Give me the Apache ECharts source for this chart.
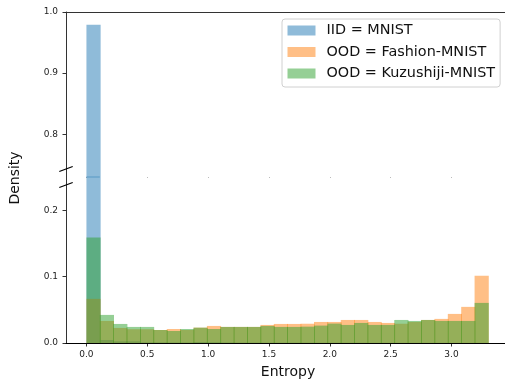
<!DOCTYPE html>
<html>
<head>
<meta charset="utf-8">
<script src="https://cdn.jsdelivr.net/npm/echarts@6/dist/echarts.min.js"></script>
<style>
  html, body { margin: 0; padding: 0; background: #fff; }
  #chart { width: 505px; height: 383px; }
</style>
</head>
<body>
<div id="chart"></div>
<script>
// Histogram bins over predictive entropy
const binStart = 0;
const binEnd = 3.30;
const binCount = 30;

// Per-bin fraction of samples
const iidMnist = [0.979, 0.0045, 0.0025, 0.0025, 0.001, 0.001, 0.0008, 0.0008, 0.0015, 0.0012,
  0.0008, 0.0006, 0.0006, 0.0005, 0.0005, 0.0005, 0.0005, 0.0004, 0.0004, 0.0004,
  0.0004, 0.0003, 0.0003, 0.0003, 0.0003, 0.0003, 0.0003, 0.0002, 0.0002, 0.0002];
const oodFashion = [0.0665, 0.0332, 0.0227, 0.0207, 0.0207, 0.0196, 0.0211, 0.0196, 0.0231, 0.0257,
  0.0242, 0.0242, 0.0242, 0.0272, 0.0287, 0.0287, 0.0290, 0.0317, 0.0317, 0.0347,
  0.0347, 0.0317, 0.0302, 0.0290, 0.0317, 0.0347, 0.0363, 0.0438, 0.0544, 0.1012];
const oodKuzushiji = [0.159, 0.0423, 0.0287, 0.0242, 0.0242, 0.0196, 0.0181, 0.0211, 0.0231, 0.0211,
  0.0242, 0.0242, 0.0242, 0.0257, 0.0242, 0.0242, 0.0246, 0.0262, 0.0292, 0.0272,
  0.0302, 0.0272, 0.0272, 0.0347, 0.0332, 0.0347, 0.0332, 0.0332, 0.0332, 0.0604];

const seriesNames = ['IID = MNIST', 'OOD = Fashion-MNIST', 'OOD = Kuzushiji-MNIST'];
const seriesValues = [iidMnist, oodFashion, oodKuzushiji];
const seriesColors = ['rgba(31,119,180,0.5)', 'rgba(255,127,14,0.5)', 'rgba(44,160,44,0.5)'];

// Axis ranges and tick labels
const xRange = [-0.168, 3.44];
const xTicks = [0, 0.5, 1.0, 1.5, 2.0, 2.5, 3.0];
const upperRange = [0.73, 1.0];
const upperTicks = [0.8, 0.9, 1.0];
const lowerRange = [0, 0.25];
const lowerTicks = [0, 0.1, 0.2];

// Layout of the two stacked panels (broken y axis)
const plotLeft = 66, plotTop = 12, plotWidth = 439, splitY = 177, plotBottom = 343;

const binWidth = (binEnd - binStart) / binCount;
function toBins(values) {
  return values.map((v, i) => [binStart + i * binWidth, binStart + (i + 1) * binWidth, v]);
}

function makeRender(range, color, edgeLine) {
  return function (params, api) {
    const v = api.value(2);
    if (!(v > range[0])) return null;
    const top = Math.min(v, range[1]);
    const a = api.coord([api.value(0), range[0]]);
    const b = api.coord([api.value(1), top]);
    const children = [{
      type: 'rect',
      shape: { x: a[0], y: b[1], width: b[0] - a[0] + 0.8, height: a[1] - b[1] },
      style: { fill: color }
    }];
    if (edgeLine) {
      children.push({
        type: 'line',
        shape: { x1: a[0], y1: a[1], x2: b[0], y2: a[1] },
        style: { stroke: color, lineWidth: 1 }
      });
    }
    return { type: 'group', children: children };
  };
}

const series = [];
seriesValues.forEach((vals, k) => {
  const data = toBins(vals);
  series.push({
    name: seriesNames[k], type: 'custom', xAxisIndex: 2, yAxisIndex: 1,
    itemStyle: { color: seriesColors[k] },
    renderItem: makeRender(lowerRange, seriesColors[k], false),
    data: data, silent: true, animation: false
  });
  if (Math.max.apply(null, vals) > upperRange[0]) {
    series.push({
      name: seriesNames[k], type: 'custom', xAxisIndex: 1, yAxisIndex: 0,
      itemStyle: { color: seriesColors[k] },
      renderItem: makeRender(upperRange, seriesColors[k], true),
      data: data, silent: true, animation: false
    });
  }
});

const tickFont = { fontFamily: 'DejaVu Sans', fontSize: 9, color: '#222' };
const fmt1 = v => Number(v).toFixed(1);

const chart = echarts.init(document.getElementById('chart'), null, { renderer: 'canvas' });

// Slanted break marks where the two panels meet
const markHalfW = 6.7, markHalfH = 2.5;
function breakMark(cy) {
  return {
    type: 'line',
    shape: { x1: plotLeft - markHalfW, y1: cy + markHalfH, x2: plotLeft + markHalfW, y2: cy - markHalfH },
    style: { stroke: '#000', lineWidth: 1.3 },
    z: 100
  };
}

chart.setOption({
  animation: false,
  backgroundColor: '#fff',
  grid: [
    { left: plotLeft, top: plotTop, width: plotWidth, height: splitY - plotTop },
    { left: plotLeft, top: splitY, width: plotWidth, height: plotBottom - splitY }
  ],
  xAxis: [
    {
      gridIndex: 0, type: 'value', min: xRange[0], max: xRange[1], position: 'top',
      axisLine: { show: true, onZero: false, lineStyle: { color: '#333', width: 1 } },
      axisTick: { show: false }, axisLabel: { show: false }, splitLine: { show: false }
    },
    {
      gridIndex: 0, type: 'value', min: xRange[0], max: xRange[1], position: 'bottom',
      axisLine: { show: false, onZero: false },
      axisTick: { show: true, length: 1, customValues: xTicks, lineStyle: { color: '#bbb' } },
      axisLabel: { show: false }, splitLine: { show: false }
    },
    {
      gridIndex: 1, type: 'value', min: xRange[0], max: xRange[1], position: 'bottom',
      axisLine: { show: true, onZero: false, lineStyle: { color: '#000', width: 1 } },
      axisTick: { show: true, length: 3.5, customValues: xTicks, lineStyle: { color: '#000', width: 0.8 } },
      axisLabel: Object.assign({ customValues: xTicks, formatter: fmt1, margin: 7 }, tickFont),
      splitLine: { show: false }
    }
  ],
  yAxis: [
    {
      gridIndex: 0, type: 'value', min: upperRange[0], max: upperRange[1],
      axisLine: { show: true, onZero: false, lineStyle: { color: '#333', width: 1 } },
      axisTick: { show: true, length: 3.5, customValues: upperTicks, lineStyle: { color: '#000', width: 0.8 } },
      axisLabel: Object.assign({ customValues: upperTicks, formatter: fmt1, margin: 8 }, tickFont),
      splitLine: { show: false }
    },
    {
      gridIndex: 1, type: 'value', min: lowerRange[0], max: lowerRange[1],
      axisLine: { show: true, onZero: false, lineStyle: { color: '#333', width: 1 } },
      axisTick: { show: true, length: 3.5, customValues: lowerTicks, lineStyle: { color: '#000', width: 0.8 } },
      axisLabel: Object.assign({ customValues: lowerTicks, formatter: fmt1, margin: 8 }, tickFont),
      splitLine: { show: false }
    }
  ],
  legend: {
    data: seriesNames,
    orient: 'vertical',
    left: 282, top: 19,
    padding: [4.5, 5, 6.5, 5.5],
    itemGap: 7.5,
    itemWidth: 28, itemHeight: 10,
    icon: 'rect',
    backgroundColor: 'rgba(255,255,255,0.8)',
    borderColor: '#d0d0d0', borderWidth: 1, borderRadius: 3,
    textStyle: { fontFamily: 'DejaVu Sans', fontSize: 14.4, color: '#111', lineHeight: 14, padding: [0, 0, 0, 6] },
    selectedMode: false
  },
  graphic: [
    breakMark(splitY - 8),
    breakMark(splitY + 8),
    {
      type: 'text', x: 288, y: 372, z: 100,
      style: { text: 'Entropy', fontFamily: 'DejaVu Sans', fontSize: 14, fill: '#111', align: 'center', verticalAlign: 'middle' }
    },
    {
      type: 'text', x: 15, y: 178, rotation: Math.PI / 2, z: 100,
      style: { text: 'Density', fontFamily: 'DejaVu Sans', fontSize: 14, fill: '#111', align: 'center', verticalAlign: 'middle' }
    }
  ],
  series: series
});
</script>
</body>
</html>
